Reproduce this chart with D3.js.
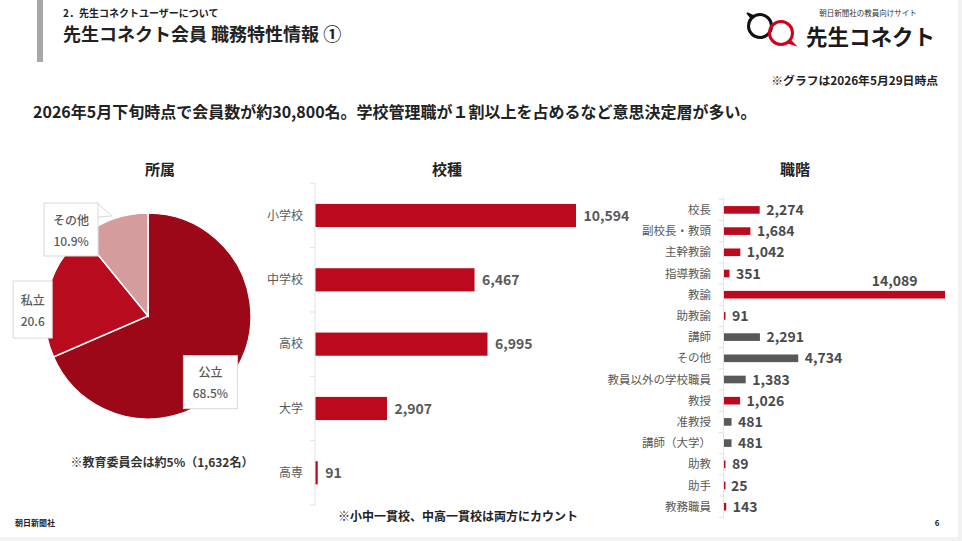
<!DOCTYPE html>
<html>
<head>
<meta charset="utf-8">
<script src="https://cdn.jsdelivr.net/npm/d3@7"></script>
<style>
  body { margin: 0; background: #fff; }
  svg { display: block; font-family: "Noto Sans CJK JP", "Noto Sans", sans-serif; }
</style>
</head>
<body>
<svg id="slide" width="962" height="541"></svg>
<script>
// 所属
var affilLabels = ['公立', '私立', 'その他']
var affilValues = [68.5, 20.6, 10.9]
var affilText = ['68.5%', '20.6', '10.9%']

// 校種
var schoolCats = ['小学校', '中学校', '高校', '大学', '高専']
var schoolValues = [10594, 6467, 6995, 2907, 91]

// 職階
var rankCats = ['校長', '副校長・教頭', '主幹教諭', '指導教諭', '教諭', '助教諭', '講師', 'その他',
  '教員以外の学校職員', '教授', '准教授', '講師（大学）', '助教', '助手', '教務職員']
var rankValues = [2274, 1684, 1042, 351, 14089, 91, 2291, 4734, 1383, 1026, 481, 481, 89, 25, 143]
var rankGroup = ['r', 'r', 'r', 'r', 'r', 'r', 'g', 'g', 'g', 'r', 'g', 'g', 'r', 'r', 'r']

var red = '#bb0a1e'
var grey = '#595959'
var fmt = d3.format(',')

var svg = d3.select('#slide')

// frame bits
svg.append('rect').attr('x', 37).attr('y', 0).attr('width', 6).attr('height', 62).attr('fill', '#a8a8a8')
svg.append('rect').attr('x', 958).attr('y', 0).attr('width', 4).attr('height', 541).attr('fill', '#f2f2f2')
svg.append('rect').attr('x', 0).attr('y', 537).attr('width', 962).attr('height', 4).attr('fill', '#f2f2f2')

svg.append('text').attr('x', 63).attr('y', 17)
  .attr('font-size', 10).attr('font-weight', 700).attr('fill', '#222')
  .text('2．先生コネクトユーザーについて')
svg.append('text').attr('x', 63).attr('y', 41)
  .attr('font-size', 18).attr('font-weight', 700).attr('fill', '#222')
  .text('先生コネクト会員 職務特性情報 ①')

// logo
var logo = svg.append('g')
logo.append('circle').attr('cx', 760).attr('cy', 26).attr('r', 11.5)
  .attr('fill', 'none').attr('stroke', '#111').attr('stroke-width', 3)
logo.append('path').attr('d', 'M751,18 L747,13 L754,16').attr('fill', '#111').attr('stroke', '#111').attr('stroke-width', 1.5)
logo.append('circle').attr('cx', 781).attr('cy', 33).attr('r', 11.5)
  .attr('fill', 'none').attr('stroke', '#d0021b').attr('stroke-width', 3)
logo.append('path').attr('d', 'M790,40 L795,45 L788,43').attr('fill', '#d0021b').attr('stroke', '#d0021b').attr('stroke-width', 1.5)
logo.append('text').attr('x', 868).attr('y', 16).attr('text-anchor', 'middle')
  .attr('font-size', 7.5).attr('fill', '#333').text('朝日新聞社の教員向けサイト')
logo.append('text').attr('x', 806).attr('y', 45)
  .attr('font-size', 21.5).attr('font-weight', 700).attr('fill', '#1a1a1a').text('先生コネクト')

svg.append('text').attr('x', 938).attr('y', 85).attr('text-anchor', 'end')
  .attr('font-size', 11.8).attr('font-weight', 700).attr('fill', '#222')
  .text('※グラフは2026年5月29日時点')

svg.append('text').attr('x', 33).attr('y', 118)
  .attr('font-size', 16).attr('font-weight', 700).attr('fill', '#222')
  .text('2026年5月下旬時点で会員数が約30,800名。学校管理職が１割以上を占めるなど意思決定層が多い。')

// panel titles
;[['所属', 160], ['校種', 447], ['職階', 795]].forEach(function(t) {
  svg.append('text').attr('x', t[1]).attr('y', 175).attr('text-anchor', 'middle')
    .attr('font-size', 15).attr('font-weight', 700).attr('fill', '#222').text(t[0])
})

// ---- pie
var pieG = svg.append('g').attr('transform', 'translate(148,316)')
var pie = d3.pie().sort(null).value(function(d) { return d })
var arcs = pie(affilValues)
var arc = d3.arc().innerRadius(0).outerRadius(103)
var pieColors = ['#9c0817', '#b80b1e', '#d59c9e']

pieG.selectAll('path.slice').data(arcs).enter().append('path')
  .attr('class', 'slice')
  .attr('d', arc)
  .attr('fill', function(d, i) { return pieColors[i] })
  .attr('stroke', '#fff').attr('stroke-width', 1.5)

// label boxes: pushed out from centroid, then nudged
var labelArc = d3.arc().innerRadius(95).outerRadius(95)
var nudge = [[-17, 14], [-23, 16], [-45, 3]]
var labels = pieG.selectAll('g.lab').data(arcs).enter().append('g')
  .attr('class', 'lab')
  .attr('transform', function(d, i) {
    var c = labelArc.centroid(d)
    return 'translate(' + (c[0] + nudge[i][0]) + ',' + (c[1] + nudge[i][1]) + ')'
  })
labels.each(function(d, i) {
  var g = d3.select(this)
  var w = i === 1 ? 39 : 54
  var h = i === 1 ? 57 : 53
  if (i === 2) {
    g.append('path').attr('d', 'M' + (w / 2 - 1) + ',' + (-h / 2) + 'L' + (w / 2 + 14) + ',' + (-h / 2 + 13) + 'L' + (w / 2 - 1) + ',' + (-h / 2 + 14))
      .attr('fill', '#fff').attr('stroke', '#d9d9d9')
  }
  g.append('rect').attr('x', -w / 2).attr('y', -h / 2).attr('width', w).attr('height', h)
    .attr('fill', '#fff').attr('stroke', '#d9d9d9')
  g.append('text').attr('y', -5).attr('text-anchor', 'middle')
    .attr('font-size', 12).attr('font-weight', 500).attr('fill', grey).text(affilLabels[i])
  g.append('text').attr('y', 16).attr('text-anchor', 'middle')
    .attr('font-size', 12).attr('font-weight', 500).attr('fill', grey).text(affilText[i])
})

svg.append('text').attr('x', 162).attr('y', 467).attr('text-anchor', 'middle')
  .attr('font-size', 12).attr('font-weight', 700).attr('fill', '#333')
  .text('※教育委員会は約5%（1,632名）')

// ---- 校種
var sx = d3.scaleLinear().domain([0, 10594]).range([315, 575.5])
var sy = d3.scaleBand().domain(schoolCats).range([183.3, 505]).paddingInner(0.64).paddingOuter(0.32)

var sAxis = svg.append('g')
sAxis.append('line').attr('x1', 315).attr('x2', 315).attr('y1', 183.3).attr('y2', 505).attr('stroke', '#e3e3e3')
sAxis.selectAll('line.tk').data(d3.range(schoolCats.length + 1)).enter().append('line')
  .attr('x1', 310).attr('x2', 315)
  .attr('y1', function(i) { return 183.3 + i * sy.step() })
  .attr('y2', function(i) { return 183.3 + i * sy.step() })
  .attr('stroke', '#e3e3e3')

svg.selectAll('rect.sbar').data(schoolValues).enter().append('rect')
  .attr('x', sx(0) + 0.5)
  .attr('y', function(d, i) { return sy(schoolCats[i]) })
  .attr('width', function(d) { return Math.max(2, sx(d) - sx(0)) })
  .attr('height', sy.bandwidth())
  .attr('fill', red)
svg.selectAll('text.scat').data(schoolCats).enter().append('text')
  .attr('x', 303).attr('y', function(d) { return sy(d) + sy.bandwidth() / 2 })
  .attr('dy', '.35em').attr('text-anchor', 'end')
  .attr('font-size', 12).attr('fill', grey).text(function(d) { return d })
svg.selectAll('text.sval').data(schoolValues).enter().append('text')
  .attr('x', function(d) { return sx(d) + 8 })
  .attr('y', function(d, i) { return sy(schoolCats[i]) + sy.bandwidth() / 2 })
  .attr('dy', '.36em')
  .attr('font-size', 14).attr('font-weight', 700).attr('fill', grey).text(fmt)

svg.append('text').attr('x', 458).attr('y', 521).attr('text-anchor', 'middle')
  .attr('font-size', 12).attr('font-weight', 700).attr('fill', '#222')
  .text('※小中一貫校、中高一貫校は両方にカウント')

// ---- 職階
var rx = d3.scaleLinear().domain([0, 14089]).range([723.5, 944.5])
var ry = d3.scaleBand().domain(rankCats).range([199.3, 517.3]).paddingInner(0.64).paddingOuter(0.32)

var rAxis = svg.append('g')
rAxis.append('line').attr('x1', 723.5).attr('x2', 723.5).attr('y1', 197).attr('y2', 517.3).attr('stroke', '#e3e3e3')
rAxis.selectAll('line.tk').data(d3.range(rankCats.length + 1)).enter().append('line')
  .attr('x1', 719).attr('x2', 723.5)
  .attr('y1', function(i) { return 199.3 + i * ry.step() })
  .attr('y2', function(i) { return 199.3 + i * ry.step() })
  .attr('stroke', '#e3e3e3')

svg.selectAll('rect.rbar').data(rankValues).enter().append('rect')
  .attr('x', rx(0) + 0.5)
  .attr('y', function(d, i) { return ry(rankCats[i]) })
  .attr('width', function(d) { return Math.max(1.5, rx(d) - rx(0)) })
  .attr('height', ry.bandwidth())
  .attr('fill', function(d, i) { return rankGroup[i] === 'r' ? red : grey })
svg.selectAll('text.rcat').data(rankCats).enter().append('text')
  .attr('x', 711).attr('y', function(d) { return ry(d) + ry.bandwidth() / 2 })
  .attr('dy', '.35em').attr('text-anchor', 'end')
  .attr('font-size', 11.5).attr('fill', grey).text(function(d) { return d })
svg.selectAll('text.rval').data(rankValues).enter().append('text')
  .attr('x', function(d) { return rx(d) > 900 ? rx(d) - 27 : rx(d) + 7 })
  .attr('y', function(d, i) { return ry(rankCats[i]) + ry.bandwidth() / 2 + (rx(d) > 900 ? -14 : 0) })
  .attr('dy', '.36em')
  .attr('text-anchor', function(d) { return rx(d) > 900 ? 'end' : 'start' })
  .attr('font-size', 14).attr('font-weight', 700).attr('fill', '#4a4a4a').text(fmt)

// footer
svg.append('text').attr('x', 15).attr('y', 526).attr('font-size', 8).attr('font-weight', 700)
  .attr('fill', '#222').text('朝日新聞社')
svg.append('text').attr('x', 937).attr('y', 526).attr('text-anchor', 'middle').attr('font-size', 8)
  .attr('font-weight', 700).attr('fill', '#222').text('6')
</script>
</body>
</html>
